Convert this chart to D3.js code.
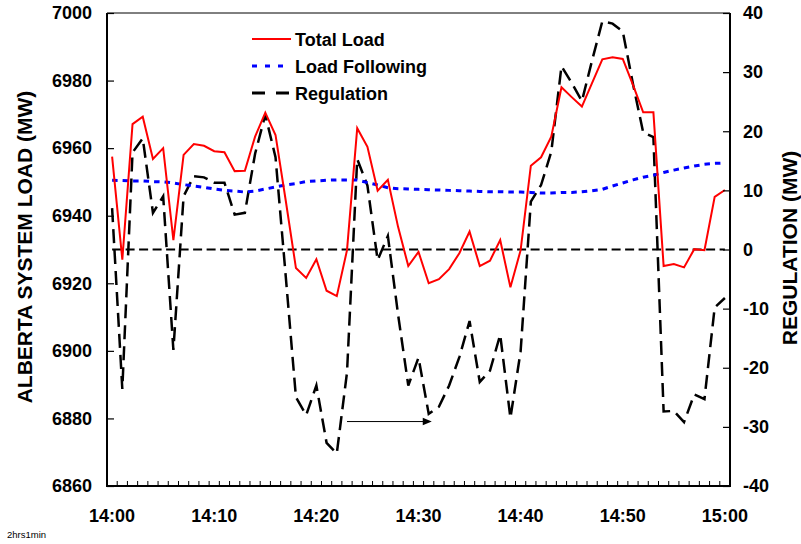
<!DOCTYPE html>
<html>
<head>
<meta charset="utf-8">
<script src="https://cdn.jsdelivr.net/npm/d3@7"></script>
<style>
  html, body { margin: 0; padding: 0; background: #fff; }
  svg { display: block; font-family: Arial, "Liberation Sans", sans-serif; }
</style>
</head>
<body>
<svg id="chart" width="801" height="544"></svg>
<script>
// ---- data (one value per minute, 14:00 .. 15:00) ----
const minutes = d3.range(0, 61);
const tickLabels = ["14:00", "14:10", "14:20", "14:30", "14:40", "14:50", "15:00"];
const tickMinutes = [0, 10, 20, 30, 40, 50, 60];

const totalLoad = [
  6957.5, 6927.0, 6967.1, 6969.3, 6956.8, 6960.0, 6932.8, 6958.0, 6961.2, 6960.7,
  6959.1, 6958.8, 6953.2, 6953.3, 6963.4, 6970.5, 6963.9, 6944.5, 6924.5, 6921.6,
  6927.1, 6917.8, 6916.2, 6929.8, 6965.9, 6960.4, 6947.4, 6950.6, 6936.7, 6925.1,
  6929.3, 6920.0, 6921.2, 6924.2, 6928.9, 6935.3, 6925.1, 6926.7, 6932.8, 6918.8,
  6929.8, 6954.8, 6957.3, 6963.4, 6978.0, 6975.1, 6972.3, 6979.3, 6986.3, 6986.9,
  6986.4, 6978.7, 6970.6, 6970.6, 6925.1, 6925.7, 6924.7, 6930.1, 6929.8, 6945.6,
  6947.6
];
const loadFollowing = [
  6950.5, 6950.4, 6950.3, 6950.3, 6950.1, 6950.0, 6949.7, 6949.2, 6948.8, 6948.4,
  6947.9, 6947.5, 6947.3, 6947.0, 6947.3, 6947.9, 6948.5, 6949.1, 6949.5, 6950.1,
  6950.3, 6950.5, 6950.6, 6950.6, 6950.6, 6949.8, 6949.1, 6948.3, 6948.0, 6947.9,
  6947.8, 6947.7, 6947.6, 6947.5, 6947.4, 6947.3, 6947.2, 6947.1, 6947.1, 6947.0,
  6947.0, 6946.9, 6946.7, 6946.7, 6946.9, 6946.9, 6947.1, 6947.4, 6947.8, 6948.8,
  6949.7, 6950.6, 6951.4, 6952.0, 6952.8, 6953.5, 6954.1, 6954.7, 6955.2, 6955.5,
  6955.6
];
const regulation = [
   7.0, -23.6,  16.4,  18.8,   6.2,   9.0, -17.0,   9.0,  12.4,  12.2,
  11.3,  11.3,   5.9,   6.2,  16.2,  22.8,  15.6,  -4.5, -25.0, -28.0,
 -23.0, -32.7, -34.5, -20.8,  15.3,  10.8,  -1.8,   2.3, -11.0, -23.0,
 -18.3, -27.8, -26.6, -23.0, -18.2, -12.1, -22.4, -20.5, -14.4, -28.5,
 -17.2,   8.1,  10.9,  16.5,  31.0,  28.2,  25.1,  32.0,  38.6,  38.2,
  36.9,  28.0,  19.8,  19.0, -27.4, -27.3, -29.2, -24.5, -25.3,  -9.8,
  -8.2
];
const zeroLine = minutes.map(() => 0);
const leftTicks = [6860, 6880, 6900, 6920, 6940, 6960, 6980, 7000];
const rightTicks = [-40, -30, -20, -10, 0, 10, 20, 30, 40];
const arrowFrom = [23.0, -29.1];
const arrowTo = [31.3, -29.1];

// ---- layout ----
const L = 107, R = 730, T = 13, B = 486;
const svg = d3.select("#chart");

const xb = d3.scaleBand().domain(minutes).range([L, R]);
const xc = m => xb(m) + xb.bandwidth() / 2;
const xLin = d3.scaleLinear().domain([0, 60]).range([xc(0), xc(60)]);
const yL = d3.scaleLinear().domain([6860, 7000]).range([B, T]);
const yR = d3.scaleLinear().domain([-40, 40]).range([B, T]);

// ---- series ----
const lineL = d3.line().x((d, i) => xc(minutes[i])).y(d => yL(d));
const lineR = d3.line().x((d, i) => xc(minutes[i])).y(d => yR(d));

svg.append("path").datum(zeroLine).attr("d", lineR)
  .attr("fill", "none").attr("stroke", "#000").attr("stroke-width", 2)
  .attr("stroke-dasharray", "9,4.5");

svg.append("path").datum(regulation).attr("d", lineR)
  .attr("fill", "none").attr("stroke", "#000").attr("stroke-width", 2.5)
  .attr("stroke-dasharray", "14,7").attr("stroke-linejoin", "miter");

svg.append("path").datum(loadFollowing).attr("d", lineL)
  .attr("fill", "none").attr("stroke", "#0000ff").attr("stroke-width", 3)
  .attr("stroke-dasharray", "5.5,5");

svg.append("path").datum(totalLoad).attr("d", lineL)
  .attr("fill", "none").attr("stroke", "#ff0000").attr("stroke-width", 2)
  .attr("stroke-linejoin", "miter");

// ---- arrow annotation ----
const ax1 = xLin(arrowFrom[0]), ax2 = xLin(arrowTo[0]), ay = yR(arrowFrom[1]);
svg.append("line").attr("x1", ax1).attr("x2", ax2 - 7).attr("y1", ay).attr("y2", ay)
  .attr("stroke", "#000").attr("stroke-width", 1);
svg.append("path")
  .attr("d", `M${ax2},${ay} L${ax2 - 9},${ay - 3.8} L${ax2 - 9},${ay + 3.8} Z`)
  .attr("fill", "#000");

// ---- axes ----
const gL = svg.append("g").attr("transform", `translate(${L},0)`)
  .call(d3.axisLeft(yL).tickValues(leftTicks).tickSize(-7).tickPadding(15).tickFormat(d => String(d)));
const gR = svg.append("g").attr("transform", `translate(${R},0)`)
  .call(d3.axisRight(yR).tickValues(rightTicks).tickSize(-7).tickPadding(13).tickFormat(d => String(d)));
[gL, gR].forEach(g => {
  g.select(".domain").remove();
  g.selectAll(".tick line").attr("stroke", "#000").attr("stroke-width", 1.2);
  g.selectAll(".tick text").attr("font-size", 18).attr("font-weight", "bold")
    .attr("fill", "#000").attr("font-family", "Arial, 'Liberation Sans', sans-serif");
});

// bottom minor ticks at category boundaries
const bounds = minutes.map(m => xb(m)).concat([R]);
svg.append("g").selectAll("line").data(bounds).join("line")
  .attr("x1", d => d).attr("x2", d => d).attr("y1", B).attr("y2", B - 5)
  .attr("stroke", "#000").attr("stroke-width", 1);

svg.append("g").selectAll("text").data(tickMinutes).join("text")
  .attr("x", d => xc(d)).attr("y", 522)
  .attr("text-anchor", "middle").attr("font-size", 18).attr("font-weight", "bold")
  .text((d, i) => tickLabels[i]);

// frame
svg.append("line").attr("x1", L).attr("x2", R).attr("y1", T).attr("y2", T)
  .attr("stroke", "#000").attr("stroke-width", 1);
svg.append("line").attr("x1", L).attr("x2", L).attr("y1", T).attr("y2", B + 1)
  .attr("stroke", "#000").attr("stroke-width", 2);
svg.append("line").attr("x1", R).attr("x2", R).attr("y1", T).attr("y2", B + 1)
  .attr("stroke", "#000").attr("stroke-width", 2);
svg.append("line").attr("x1", L - 1).attr("x2", R + 1).attr("y1", B).attr("y2", B)
  .attr("stroke", "#000").attr("stroke-width", 2);

// axis titles
svg.append("text").attr("transform", "translate(32,247) rotate(-90)")
  .attr("text-anchor", "middle").attr("font-size", 21).attr("font-weight", "bold")
  .text("ALBERTA SYSTEM LOAD (MW)");
svg.append("text").attr("transform", "translate(797,248) rotate(-90)")
  .attr("text-anchor", "middle").attr("font-size", 21).attr("font-weight", "bold")
  .text("REGULATION (MW)");

// legend
const legend = [
  { name: "Total Load", color: "#ff0000", width: 2, dash: null },
  { name: "Load Following", color: "#0000ff", width: 3, dash: "5,8" },
  { name: "Regulation", color: "#000", width: 3, dash: "13,11" }
];
const lg = svg.append("g");
legend.forEach((d, i) => {
  const y = 39 + i * 27;
  lg.append("line").attr("x1", 252).attr("x2", 291).attr("y1", y).attr("y2", y)
    .attr("stroke", d.color).attr("stroke-width", d.width)
    .attr("stroke-dasharray", d.dash);
  lg.append("text").attr("x", 295).attr("y", y + 6.5)
    .attr("font-size", 18).attr("font-weight", "bold").text(d.name);
});

// footnote
svg.append("text").attr("x", 7).attr("y", 538).attr("font-size", 9.5).text("2hrs1min");
</script>
</body>
</html>
